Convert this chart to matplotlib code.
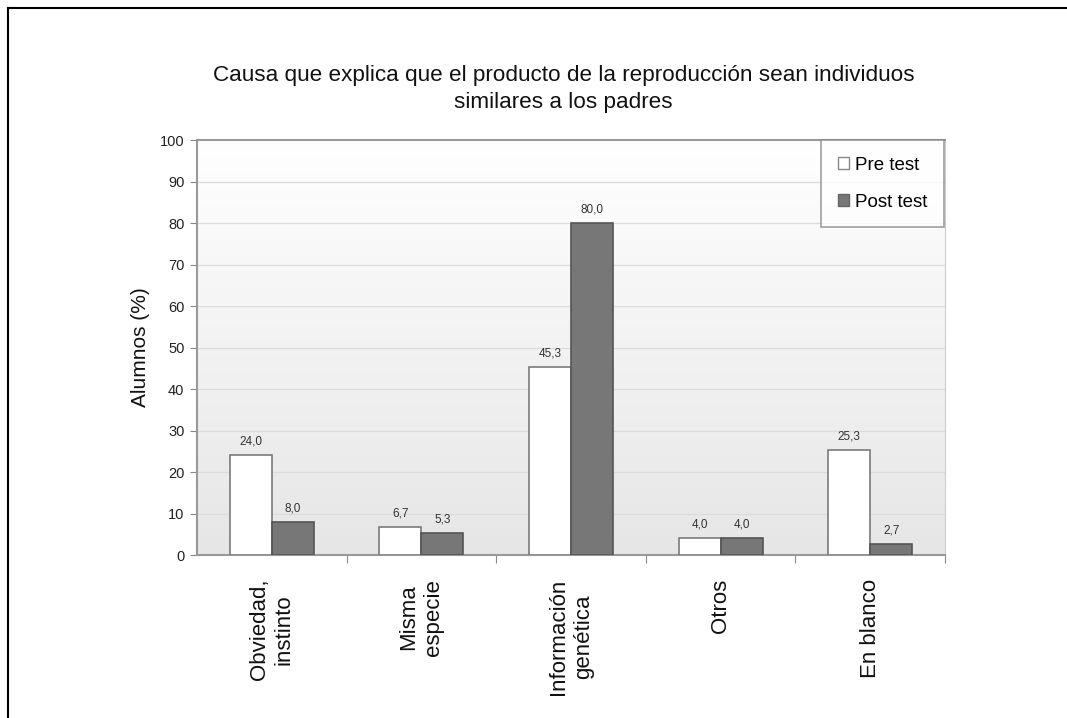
import numpy as np
import matplotlib
matplotlib.use("Agg")
import matplotlib.pyplot as plt
from matplotlib.lines import Line2D

plt.rcParams['font.family'] = ['Liberation Sans', 'DejaVu Sans']

categories = ["Obviedad,\ninstinto", "Misma\nespecie", "Información\ngenética", "Otros", "En blanco"]
pre_test = [24.0, 6.7, 45.3, 4.0, 25.3]
post_test = [8.0, 5.3, 80.0, 4.0, 2.7]
title = "Causa que explica que el producto de la reproducción sean individuos\nsimilares a los padres"

fig = plt.figure(figsize=(10.67, 7.18), dpi=100)
ax = fig.add_axes([0.1846, 0.227, 0.7011, 0.578])

x = np.arange(len(categories))
w = 0.28

# fondo degradado
grad = np.linspace(1.0, 0.0, 256).reshape(-1, 1)
cmap = matplotlib.colors.LinearSegmentedColormap.from_list('g', ['#e6e6e6', '#ffffff'])
ax.imshow(grad, extent=[-0.5, 4.5, 0, 100], aspect='auto', cmap=cmap,
          origin='upper', zorder=0, vmin=0, vmax=1)

for yv in range(10, 100, 10):
    ax.axhline(yv, color='#dcdcdc', lw=0.9, zorder=1)

b1 = ax.bar(x - w / 2, pre_test, w, color='white', edgecolor='#7a7a7a', lw=1.2, zorder=3, label='Pre test')
b2 = ax.bar(x + w / 2, post_test, w, color='#777777', edgecolor='#555555', lw=1.2, zorder=3, label='Post test')

for bars, vals in [(b1, pre_test), (b2, post_test)]:
    for b, v in zip(bars, vals):
        ax.text(b.get_x() + b.get_width() / 2, v + 1.8, ("%.1f" % v).replace('.', ','),
                ha='center', va='bottom', fontsize=8.5, color='#333333', zorder=4)

ax.set_xlim(-0.5, 4.5)
ax.set_ylim(0, 100)
ax.set_yticks(range(0, 101, 10))
ax.tick_params(axis='y', labelsize=10.5, length=5, color='#888888', labelcolor='#222222', pad=4)

ax.set_xticks(x + 0.5)
ax.set_xticklabels([])
ax.set_xticks(x, minor=True)
ax.set_xticklabels(categories, minor=True, rotation=90, fontsize=16, va='top', ha='center',
                   multialignment='center', color='#111111', linespacing=1.25)
ax.tick_params(axis='x', which='major', length=6, color='#888888')
ax.tick_params(axis='x', which='minor', length=0, pad=17)

for s in ['left', 'bottom', 'top']:
    ax.spines[s].set_color('#999999')
    ax.spines[s].set_linewidth(1.5)
ax.spines['right'].set_color('#cccccc')

ax.set_ylabel("Alumnos (%)", fontsize=15, color='#111111', labelpad=7)

fig.text(0.528, 0.876, title, ha='center', va='center', fontsize=16.2, color='#111111', linespacing=1.35)

handles = [plt.Rectangle((0, 0), 1, 1, facecolor='white', edgecolor='#888888'),
           plt.Rectangle((0, 0), 1, 1, facecolor='#777777', edgecolor='#666666')]
leg = ax.legend(handles, ['Pre test', 'Post test'], loc='upper right', bbox_to_anchor=(0.9985, 1.0),
                fontsize=13.5, frameon=True, fancybox=False, edgecolor='#888888',
                handlelength=0.6, handleheight=0.6, handletextpad=0.3, labelspacing=1.05,
                borderpad=0.9, borderaxespad=0.0)
leg.get_frame().set_linewidth(1.2)
leg.set_zorder(5)

# marco exterior
fig.add_artist(Line2D([8 / 1067, 1.0], [1 - 8 / 718, 1 - 8 / 718], color='black', lw=1.5))
fig.add_artist(Line2D([8 / 1067, 8 / 1067], [0, 1 - 8 / 718], color='black', lw=1.5))

fig.savefig("out.png", dpi=100)
